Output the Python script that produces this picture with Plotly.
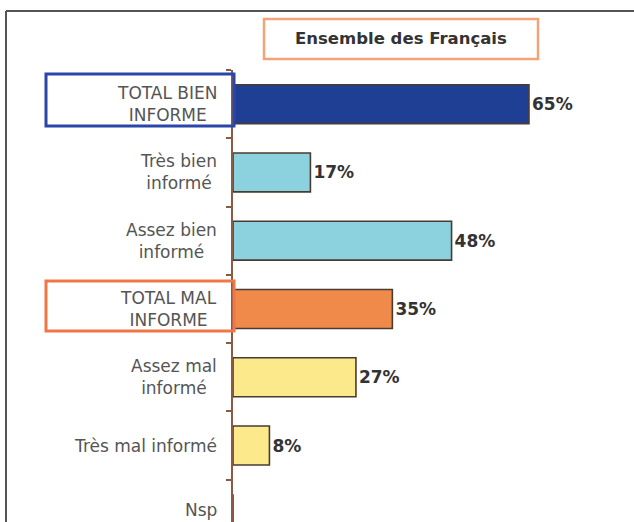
import plotly.graph_objects as go

categories = ["TOTAL BIEN<br>INFORME", "Très bien<br>informé", "Assez bien<br>informé",
              "TOTAL MAL<br>INFORME", "Assez mal<br>informé", "Très mal informé", "Nsp"]
values = [65, 17, 48, 35, 27, 8, 0]
value_labels = ["65%", "17%", "48%", "35%", "27%", "8%", ""]
bar_colors = ["#1F3F95", "#8CD2DE", "#8CD2DE", "#F08A4B", "#FBE98C", "#FBE98C", "#FBE98C"]
title_text = "Ensemble des Français"

W, H = 634, 522
FONT = "DejaVu Sans"


def px(x):
    return x / W


def py(y):
    return 1 - y / H


fig = go.Figure()
fig.add_trace(go.Bar(
    x=values, y=categories, orientation="h",
    marker=dict(color=bar_colors, line=dict(color="#4a3b32", width=1.6)),
    width=0.57,
    text=value_labels, textposition="outside",
    textfont=dict(family=FONT, size=17, color="#333333", weight="bold"),
    cliponaxis=False, hoverinfo="skip",
))

# category labels (centered lines, right-anchored)
annotations = []
for i, c in enumerate(categories):
    annotations.append(dict(
        x=px(219), xref="paper", xanchor="right",
        y=c, yref="y", yanchor="middle",
        yshift=4 if i == len(categories) - 1 else 0,
        text=c, showarrow=False, align="center",
        font=dict(family=FONT, size=17, color="#555555"),
    ))
annotations.append(dict(
    x=px(401), y=py(39), xref="paper", yref="paper",
    xanchor="center", yanchor="middle",
    text=title_text, showarrow=False,
    font=dict(family=FONT, size=16.5, color="#333333", weight="bold"),
))

shapes = [
    # outer frame (top and left)
    dict(type="line", xref="paper", yref="paper", x0=px(6), x1=1, y0=py(11), y1=py(11),
         line=dict(color="#555555", width=2)),
    dict(type="line", xref="paper", yref="paper", x0=px(6), x1=px(6), y0=py(11), y1=0,
         line=dict(color="#555555", width=2)),
    # title box
    dict(type="rect", xref="paper", yref="paper", x0=px(264), x1=px(538), y0=py(19), y1=py(59),
         line=dict(color="#F4A277", width=2.5)),
    # highlight boxes
    dict(type="rect", xref="paper", yref="paper", x0=px(46), x1=px(234), y0=py(74), y1=py(126),
         line=dict(color="#2A46A8", width=3)),
    dict(type="rect", xref="paper", yref="paper", x0=px(46), x1=px(234), y0=py(281), y1=py(331),
         line=dict(color="#F07646", width=3)),
]

fig.update_layout(
    width=W, height=H,
    margin=dict(l=0, r=0, t=0, b=0),
    paper_bgcolor="white", plot_bgcolor="white",
    showlegend=False,
    xaxis=dict(domain=[px(233), px(600)], range=[0, 80.6], visible=False),
    yaxis=dict(domain=[0, 1 - 70 / H], range=[6.12, -0.5], type="category",
               showline=True, linecolor="#8a5a42", linewidth=2,
               ticks="outside", tickson="boundaries", ticklen=5, tickcolor="#8a5a42", tickwidth=1.5,
               showticklabels=False, showgrid=False, zeroline=False, automargin=False),
    annotations=annotations,
    shapes=shapes,
)

fig.write_html("out.html", config={"displayModeBar": False},
               post_script="document.body.style.margin='0px';")
